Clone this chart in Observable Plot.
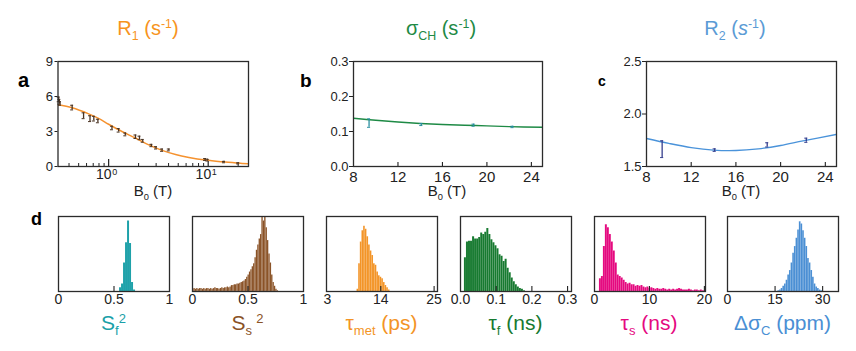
<!DOCTYPE html>
<html><head><meta charset="utf-8">
<script src="https://cdn.jsdelivr.net/npm/d3@7"></script>
<script src="https://cdn.jsdelivr.net/npm/@observablehq/plot@0.6"></script>
<style>
body{margin:0;background:#fff;}
#fig{position:relative;width:856px;height:351px;overflow:hidden;background:#fff;}
#fig sub,#fig sup{font-size:0.62em;line-height:0;position:relative;vertical-align:baseline;}
#fig sub{top:0.38em;}
#fig sup{top:-0.55em;}
#fig svg{display:block;max-width:none;}
</style></head><body><div id="fig"></div>
<script>
// ---------- Panel a: R1 vs B0 (log x) ----------
const r1B   = [0.315,0.32,0.325,0.43,0.56,0.65,0.71,0.78,1.08,1.26,1.47,1.86,2.04,2.20,2.69,2.99,3.44,4.02,9.3,9.8,14.4,20.0];
const r1Val = [5.75,5.55,5.4,5.05,4.35,4.1,4.1,3.9,3.3,3.1,2.75,2.55,2.45,2.2,1.8,1.6,1.4,1.42,0.6,0.55,0.38,0.27];
const r1Err = [0.2,0.2,0.15,0.2,0.25,0.25,0.2,0.15,0.15,0.15,0.12,0.15,0.15,0.12,0.1,0.1,0.1,0.08,0.08,0.08,0.06,0.05];
const r1FitB = [0.31,0.43,0.63,0.8,1.0,1.36,1.86,2.5,3.44,4.7,6.4,9.4,13.9,20.2,25.4];
const r1FitV = [5.29,5.03,4.51,4.1,3.62,3.0,2.44,1.87,1.38,1.03,0.78,0.55,0.40,0.29,0.23];
const r1XDomain = [0.31, 25.4];
const r1YTicks = [0,3,6,9];
const r1YLabels = ["0","3","6","9"];
const r1MajorTicks = [1,10];
const r1MajorBase = ["10","10"];
const r1MajorExp = ["0","1"];
const r1MinorTicks = [0.4,0.5,0.6,0.7,0.8,0.9,2,3,4,5,6,7,8,9,20];

// ---------- Panel b: sigma_CH ----------
const sB   = [9.4,14.1,18.8,22.3];
const sVal = [0.124,0.120,0.118,0.113];
const sErr = [0.012,0.003,0.003,0.002];
const sFitB = [8,10,12,14,16,18,20,22,25];
const sFitV = [0.138,0.132,0.127,0.123,0.120,0.118,0.116,0.114,0.112];
const sYTicks = [0,0.1,0.2,0.3];
const sYLabels = ["0.0","0.1","0.2","0.3"];

// ---------- Panel c: R2 ----------
const cB   = [9.4,14.1,18.8,22.3];
const cVal = [1.665,1.656,1.706,1.75];
const cErr = [0.08,0.012,0.02,0.02];
const cFitB = [8,10,12,14,16,18,20,22,25];
const cFitV = [1.767,1.72,1.68,1.656,1.652,1.668,1.70,1.744,1.805];
const cYTicks = [1.5,2.0,2.5];
const cYLabels = ["1.5","2.0","2.5"];

const fieldXTicks = [8,12,16,20,24];
const fieldXLabels = ["8","12","16","20","24"];
const fieldInnerTicks = [12,16,20,24];

// ---------- Panel d: histograms (heights in % of panel height) ----------
const sf2Start = 0.55, sf2Width = 0.018;
const sf2Heights = [5,10,38,65,94,64,12,2];
const ss2Start = 0, ss2Width = 0.0125;
const ss2Heights = [3,4,3,4,3,4,4,3,4,3,4,4,3,4,3,4,5,4,4,3,4,5,4,5,
  5,6,5,6, 8,8,9,9, 10,10,11,12, 13,14,16,19, 22,26,29,33, 37,45,55,62, 70,76,
  105,94,105,85,68,50,38,22,12,7,3,1];
const tmetStart = 9.1, tmetWidth = 0.34;
const tmetHeights = [3,37,66,81,87,83,73,62,54,48,37,35,26,21,19,17,12,8,5,2];
const tfStart = 0.011, tfWidth = 0.0057;
const tfHeights = [45,66,67,67,73,70,70,72,78,76,79,84,76,69,65,61,57,49,47,40,43,31,25,18,13,9,6,4,3,1];
const tsStart = 0.9, tsWidth = 0.36;
const tsHeights = [17,20,60,89,85,76,66,54,38,22,20,18,15,12,10,11,9,9,7,8,7,8,6,5,6,4,5,4,3,4,
  3,3,4,3,2,3,2,3,2,3,4,3,2,2,2,3,2,1,2,2,1,2,1];
const dsStart = 15.9, dsWidth = 0.52;
const dsHeights = [1,2,4,7,10,15,22,28,38,51,60,71,82,93,90,81,71,60,44,38,28,19,10,6,4,2,1];

const histSpecs = [
  {left:58, domain:[0,1], ticks:[0,0.5,1], labels:["0","0.5","1"], inner:[0.5], start:sf2Start, width:sf2Width, heights:sf2Heights, color:"#1AA0A8", title:"S<sub>f</sub><sup>2</sup>"},
  {left:192, domain:[0,1], ticks:[0,0.5,1], labels:["0","0.5","1"], inner:[0.5], start:ss2Start, width:ss2Width, heights:ss2Heights, color:"#8A5226", title:"S<sub>s</sub>&thinsp;<sup>2</sup>"},
  {left:326, domain:[2.8,25.7], ticks:[3,14,25], labels:["3","14","25"], inner:[14,25], start:tmetStart, width:tmetWidth, heights:tmetHeights, color:"#F39426", title:"τ<sub>met</sub> (ps)"},
  {left:460, domain:[0,0.311], ticks:[0,0.1,0.2,0.3], labels:["0.0","0.1","0.2","0.3"], inner:[0.1,0.2,0.3], start:tfStart, width:tfWidth, heights:tfHeights, color:"#177A30", title:"τ<sub>f</sub> (ns)"},
  {left:593.5, domain:[0,20.2], ticks:[0,10,20], labels:["0","10","20"], inner:[10,20], start:tsStart, width:tsWidth, heights:tsHeights, color:"#E5097F", title:"τ<sub>s</sub> (ns)"},
  {left:727, domain:[0,35], ticks:[0,15,30], labels:["0","15","30"], inner:[15,30], start:dsStart, width:dsWidth, heights:dsHeights, color:"#4A8FD4", title:"Δσ<sub>C</sub> (ppm)"}
];

// ---------- helpers ----------
const FONT = '"Liberation Sans", Arial, Helvetica, sans-serif';
const fig = document.getElementById("fig");
const FRAME = {stroke:"#2b2b2b", strokeWidth:1.3};
const STYLE = {background:"transparent", fontFamily:FONT, color:"#222", overflow:"visible"};

function place(node, left, top) {
  const d = document.createElement("div");
  d.style.cssText = `position:absolute;left:${left}px;top:${top}px;`;
  d.appendChild(node);
  fig.appendChild(d);
}
function label(html, {x, baseline, size, color="#111", weight="normal", align="center", width=240, style=""}) {
  const d = document.createElement("div");
  const top = baseline - 0.846*size;
  const left = align === "center" ? x - width/2 : x;
  d.style.cssText = `position:absolute;left:${left}px;top:${top}px;width:${width}px;text-align:${align};font-family:${FONT};font-weight:${weight};font-size:${size}px;line-height:${size}px;height:${size}px;color:${color};white-space:nowrap;${style}`;
  d.innerHTML = html;
  fig.appendChild(d);
}
const lbl = (vals, labels) => d => labels[vals.indexOf(d)];
const rows = (xs, vs, es) => xs.map((x,i) => ({B:x, v:vs[i], e: es ? es[i] : 0}));

// ---------- panel a ----------
{
  const pts = rows(r1B, r1Val, r1Err);
  const fit = rows(r1FitB, r1FitV);
  const ink = "#4a3322";
  const p = Plot.plot({
    width:240, height:140, marginLeft:40.5, marginRight:9, marginTop:10, marginBottom:25,
    style: STYLE,
    x:{type:"log", domain:r1XDomain, axis:null, label:null},
    y:{domain:[0,9], label:null},
    marks:[
      Plot.tickX(r1MinorTicks, {x:d=>d, insetTop:102, stroke:"#222", strokeWidth:1}),
      Plot.tickX(r1MajorTicks, {x:d=>d, insetTop:98, stroke:"#222", strokeWidth:1.2}),
      Plot.line(fit, {x:"B", y:"v", stroke:"#F5922F", strokeWidth:1.5, curve:"catmull-rom", clip:true}),
      Plot.ruleX(pts, {x:"B", y1:d=>d.v-d.e, y2:d=>d.v+d.e, stroke:ink, strokeWidth:1.3}),
      Plot.ruleY(pts, {y:d=>d.v-d.e, x1:d=>d.B/1.035, x2:d=>d.B*1.035, stroke:ink, strokeWidth:1}),
      Plot.ruleY(pts, {y:d=>d.v+d.e, x1:d=>d.B/1.035, x2:d=>d.B*1.035, stroke:ink, strokeWidth:1}),
      Plot.axisY(r1YTicks, {tickSize:3, tickPadding:2, fontSize:13, label:null, tickFormat:lbl(r1YTicks, r1YLabels)}),
      Plot.text(r1MajorTicks, {x:d=>d, frameAnchor:"bottom", lineAnchor:"top", dy:3, dx:3, textAnchor:"end", fontSize:14, text:(d,i)=>r1MajorBase[i]}),
      Plot.text(r1MajorTicks, {x:d=>d, frameAnchor:"bottom", lineAnchor:"top", dy:2, dx:3.5, textAnchor:"start", fontSize:9, text:(d,i)=>r1MajorExp[i]}),
      Plot.frame(FRAME)
    ]
  });
  place(p, 17, 51);
}

// ---------- panels b, c ----------
function fieldPanel({left, width, marginRight, yDomain, yTicks, yLabels, pts, fit, lineColor, errColor}) {
  const p = Plot.plot({
    width, height:140, marginLeft:40, marginRight, marginTop:10, marginBottom:25,
    style: STYLE,
    x:{domain:[8,25], label:null},
    y:{domain:yDomain, label:null},
    marks:[
      Plot.tickX(fieldInnerTicks, {x:d=>d, insetTop:101, stroke:"#222", strokeWidth:1.1}),
      Plot.line(fit, {x:"B", y:"v", stroke:lineColor, strokeWidth:1.4, curve:"catmull-rom", clip:true}),
      Plot.ruleX(pts, {x:"B", y1:d=>d.v-d.e, y2:d=>d.v+d.e, stroke:errColor, strokeWidth:1.3}),
      Plot.ruleY(pts, {y:d=>d.v-d.e, x1:d=>d.B-0.14, x2:d=>d.B+0.14, stroke:errColor, strokeWidth:1}),
      Plot.ruleY(pts, {y:d=>d.v+d.e, x1:d=>d.B-0.14, x2:d=>d.B+0.14, stroke:errColor, strokeWidth:1}),
      Plot.axisY(yTicks, {tickSize:4, tickPadding:1, fontSize:13, label:null, tickFormat:lbl(yTicks, yLabels)}),
      Plot.axisX(fieldXTicks, {tickSize:0, tickPadding:5, fontSize:15, label:null, tickFormat:lbl(fieldXTicks, fieldXLabels)}),
      Plot.frame(FRAME)
    ]
  });
  place(p, left, 51);
}
fieldPanel({left:313, width:240, marginRight:11, yDomain:[0,0.3], yTicks:sYTicks, yLabels:sYLabels,
  pts:rows(sB, sVal, sErr), fit:rows(sFitB, sFitV), lineColor:"#1E8A45", errColor:"#2A8FA0"});
fieldPanel({left:606, width:245, marginRight:15, yDomain:[1.5,2.5], yTicks:cYTicks, yLabels:cYLabels,
  pts:rows(cB, cVal, cErr), fit:rows(cFitB, cFitV), lineColor:"#4A93DA", errColor:"#363F8E"});

// ---------- histograms ----------
for (const s of histSpecs) {
  const bins = s.heights.map((h,i) => ({x1: s.start + i*s.width, x2: s.start + (i+1)*s.width, h}));
  const p = Plot.plot({
    width:135, height:110, marginLeft:12, marginRight:12, marginTop:10, marginBottom:25,
    style: STYLE,
    x:{domain:s.domain, label:null},
    y:{domain:[0,100], axis:null, label:null},
    marks:[
      Plot.rectY(bins, {x1:"x1", x2:"x2", y:"h", fill:s.color, stroke:"#ffffff", strokeOpacity:0.12, strokeWidth:0.4, inset:0, clip:true}),
      Plot.tickX(s.inner, {x:d=>d, insetTop:70, stroke:"#222", strokeWidth:1.1}),
      Plot.axisX(s.ticks, {tickSize:0, tickPadding:3, fontSize:14, label:null, tickFormat:lbl(s.ticks, s.labels)}),
      Plot.frame(FRAME)
    ]
  });
  place(p, s.left - 12, 206);
  label(s.title, {x: s.left + 55.5, baseline:330, size:21, color:s.color});
}

// ---------- titles and labels ----------
label("R<sub>1</sub> (s<sup>-1</sup>)", {x:148, baseline:35, size:20, color:"#F7941D"});
label("σ<sub>CH</sub> (s<sup>-1</sup>)", {x:441, baseline:35, size:20, color:"#1E8A45"});
label("R<sub>2</sub> (<i>s</i><sup>-1</sup>)", {x:735, baseline:35, size:20, color:"#5B9BD5"});
label("B<sub>0</sub> (T)", {x:153, baseline:196, size:15, color:"#222"});
label("B<sub>0</sub> (T)", {x:447, baseline:196, size:15, color:"#222"});
label("B<sub>0</sub> (T)", {x:741, baseline:196, size:15, color:"#222"});
label("a", {x:18, baseline:87, size:20, weight:"bold", align:"left", width:30, color:"#000"});
label("b", {x:300, baseline:87, size:19, weight:"bold", align:"left", width:30, color:"#000"});
label("c", {x:598, baseline:86, size:14, weight:"bold", align:"left", width:30, color:"#000"});
label("d", {x:31, baseline:225, size:18, weight:"bold", align:"left", width:30, color:"#000"});
</script></body></html>
